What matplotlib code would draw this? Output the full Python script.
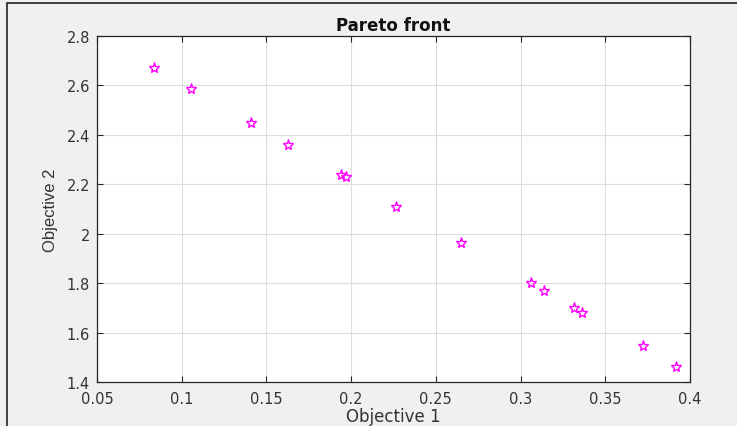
import matplotlib
matplotlib.use("Agg")
import matplotlib.pyplot as plt
from matplotlib.patches import Rectangle

obj1 = [0.0836, 0.1055, 0.1409, 0.1627, 0.1940, 0.1970, 0.2265, 0.2648,
        0.3061, 0.3138, 0.3315, 0.3362, 0.3722, 0.3917]
obj2 = [2.670, 2.585, 2.448, 2.359, 2.238, 2.229, 2.108, 1.962,
        1.800, 1.768, 1.699, 1.679, 1.546, 1.461]
xticks = [0.05, 0.1, 0.15, 0.2, 0.25, 0.3, 0.35, 0.4]
xticklabels = ["0.05", "0.1", "0.15", "0.2", "0.25", "0.3", "0.35", "0.4"]
yticks = [1.4, 1.6, 1.8, 2.0, 2.2, 2.4, 2.6, 2.8]
yticklabels = ["1.4", "1.6", "1.8", "2", "2.2", "2.4", "2.6", "2.8"]

plt.rcParams['font.family'] = ['DejaVu Sans']

fig = plt.figure(figsize=(7.37, 4.27), dpi=100)
fig.patch.set_facecolor('#f0f0f0')
fig.patches.append(Rectangle((7/737, -0.05), 1.2, 1 - 3.5/427 + 0.05,
                             transform=fig.transFigure, fill=False,
                             edgecolor='#222222', linewidth=1.2))

ax = fig.add_axes([97/737, 1 - 383/427, (690 - 97)/737, (383 - 37)/427])
ax.set_facecolor('white')
ax.plot(obj1, obj2, linestyle='none', marker='*', markersize=8,
        markerfacecolor='none', markeredgecolor='#ff00ff', markeredgewidth=1.0)

ax.set_xlim(0.05, 0.4)
ax.set_ylim(1.4, 2.8)
ax.set_xticks(xticks)
ax.set_xticklabels(xticklabels)
ax.set_yticks(yticks)
ax.set_yticklabels(yticklabels)
ax.grid(True, color='#dcdcdc', linewidth=0.8)
ax.set_axisbelow(True)
ax.tick_params(direction='in', length=4, width=0.8, colors='#262626',
               labelsize=10.5, top=True, right=True, labelcolor='#333333')
ax.tick_params(axis='x', pad=6.5)
ax.tick_params(axis='y', pad=5)
for s in ax.spines.values():
    s.set_color('#262626')
    s.set_linewidth(0.9)

ax.set_title('Pareto front', fontsize=12, fontweight='bold', pad=4,
             color='#111111')
ax.set_xlabel('Objective 1', fontsize=12, color='#333333', labelpad=0.5)
ax.set_ylabel('Objective 2', fontsize=12, color='#333333', labelpad=6,
              family=['Liberation Sans', 'DejaVu Sans'])

fig.savefig('out.png', dpi=100, facecolor=fig.get_facecolor())
